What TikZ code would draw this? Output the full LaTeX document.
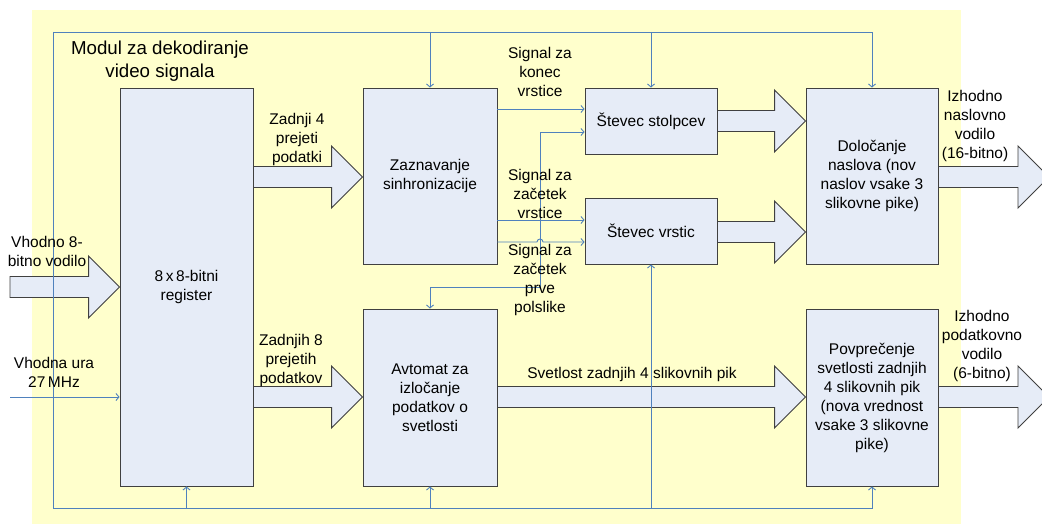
\documentclass[tikz,border=0pt]{standalone}
\usepackage{fontspec}
\setmainfont{Liberation Sans}
\usetikzlibrary{arrows.meta,calc}
\definecolor{bg}{RGB}{255,255,204}
\definecolor{boxfill}{RGB}{230,236,247}
\definecolor{boxline}{RGB}{64,64,64}
\definecolor{sigc}{RGB}{79,129,189}
\newcommand\bigarr[3]{%
  \draw[barr] let \p1=(#1), \p2=(#2), \p3=(0,#3) in
   (\x1,\y3+10.5pt) -- (\x2-31pt,\y3+10.5pt) -- (\x2-31pt,\y3+31pt) -- (\x2,\y3)
   -- (\x2-31pt,\y3-31pt) -- (\x2-31pt,\y3-10.5pt) -- (\x1,\y3-10.5pt) -- cycle;}
\tikzset{
  blk/.style={draw=boxline, fill=boxfill, line width=0.9pt, align=center, inner sep=0pt},
  barr/.style={draw=boxline, fill=boxfill, line width=0.9pt, line join=miter},
  sig/.style={draw=sigc, line width=0.9pt},
  lbl/.style={align=center, inner sep=0pt},
}
\begin{document}
\begin{tikzpicture}[x=1pt,y=-1pt, font=\fontsize{15.5}{19}\selectfont,
  >={Straight Barb[length=3pt,width=7pt]}]
\useasboundingbox (0,0) rectangle (1042,524);
\clip (0,0) rectangle (1042,524);
\fill[bg] (32,10) rectangle (961,524);

% boxes
\node[blk, minimum width=133pt, minimum height=398pt] (reg) at (186.5,287) {8\,x\,8-bitni\\register};
\node[blk, minimum width=134pt, minimum height=176pt] (zaz) at (430,176) {Zaznavanje\\sinhronizacije};
\node[blk, minimum width=134pt, minimum height=177pt] (avt) at (430,397.5) {Avtomat za\\izločanje\\podatkov o\\svetlosti};
\node[blk, minimum width=132pt, minimum height=66pt] (stol) at (651,121) {Števec stolpcev};
\node[blk, minimum width=132pt, minimum height=66pt] (vrs) at (651,231) {Števec vrstic};
\node[blk, minimum width=132pt, minimum height=176pt] (dol) at (872,176) {Določanje\\naslova (nov\\naslov vsake 3\\slikovne pike)};
\node[blk, minimum width=132pt, minimum height=177pt] (pov) at (872,397.5) {Povprečenje\\svetlosti zadnjih\\4 slikovnih pik\\(nova vrednost\\vsake 3 slikovne\\pike)};

% helper coordinates
\coordinate (in1) at (10,287);
\coordinate (out1) at (1049,177);
\coordinate (out2) at (1049,397);
\coordinate (clk) at (10,397);
\coordinate (bTL) at (53,32);
\coordinate (bBL) at (53,508);
\coordinate (j) at (540,220);
\coordinate (y109) at (0,109);
\coordinate (y132) at (0,132);
\coordinate (y242) at (0,242);
\coordinate (y287) at (0,287);

% block arrows
\bigarr{in1}{reg.west}{287}
\bigarr{reg.east}{zaz.west}{177}
\bigarr{reg.east}{avt.west}{397}
\bigarr{avt.east}{pov.west}{397}
\bigarr{stol.east}{dol.west}{121}
\bigarr{vrs.east}{dol.west}{232}
\bigarr{dol.east}{out1}{177}
\bigarr{pov.east}{out2}{397}

% clock bus
\draw[sig,->] (clk) -- (reg.west |- clk);
\draw[sig] (bTL) -- (bBL);
\draw[sig,->] (bTL) -| (dol.north);
\draw[sig,->] (bBL) -| (pov.south);
\draw[sig,->] (zaz.north |- bTL) -- (zaz.north);
\draw[sig,->] (stol.north |- bTL) -- (stol.north);
\draw[sig,->] (reg.south |- bBL) -- (reg.south);
\draw[sig,->] (avt.south |- bBL) -- (avt.south);
\draw[sig,->] (vrs.south |- bBL) -- (vrs.south);

% sync signals
\draw[sig,->] (zaz.east |- y109) -- (stol.west |- y109);
\draw[sig,->] (zaz.east |- j) -- (vrs.west |- j);
\draw[sig,->] (j) |- (stol.west |- y132);
\draw[sig,->] (j) -- (j |- y287) -| (avt.north);
\draw[sig,->] (zaz.east |- y242) -- ($(j |- y242)+(-3,0)$)
  arc[start angle=180, end angle=0, radius=3pt] -- (vrs.west |- y242);

% labels
\node[lbl, font=\fontsize{18.7}{23}\selectfont] (title) at (160,61) {Modul za dekodiranje\\video signala};
\node[lbl] (l1) at (297,139) {Zadnji 4\\prejeti\\podatki};
\node[lbl] (l2) at (47,251) {Vhodno 8-\\bitno vodilo};
\node[lbl] (l3) at (54,372) {Vhodna ura\\27\,MHz};
\node[lbl] (l4) at (291,360) {Zadnjih 8\\prejetih\\podatkov};
\node[lbl] (l5) at (540,72) {Signal za\\konec\\vrstice};
\node[lbl] (l6) at (540,194) {Signal za\\začetek\\vrstice};
\node[lbl] (l7) at (540,280) {Signal za\\začetek\\prve\\polslike};
\node[lbl] (l8) at (632,374) {Svetlost zadnjih 4 slikovnih pik};
\node[lbl] (l9) at (975,126) {Izhodno\\naslovno\\vodilo\\(16-bitno)};
\node[lbl] (l10) at (982,346) {Izhodno\\podatkovno\\vodilo\\(6-bitno)};
\end{tikzpicture}
\end{document}
